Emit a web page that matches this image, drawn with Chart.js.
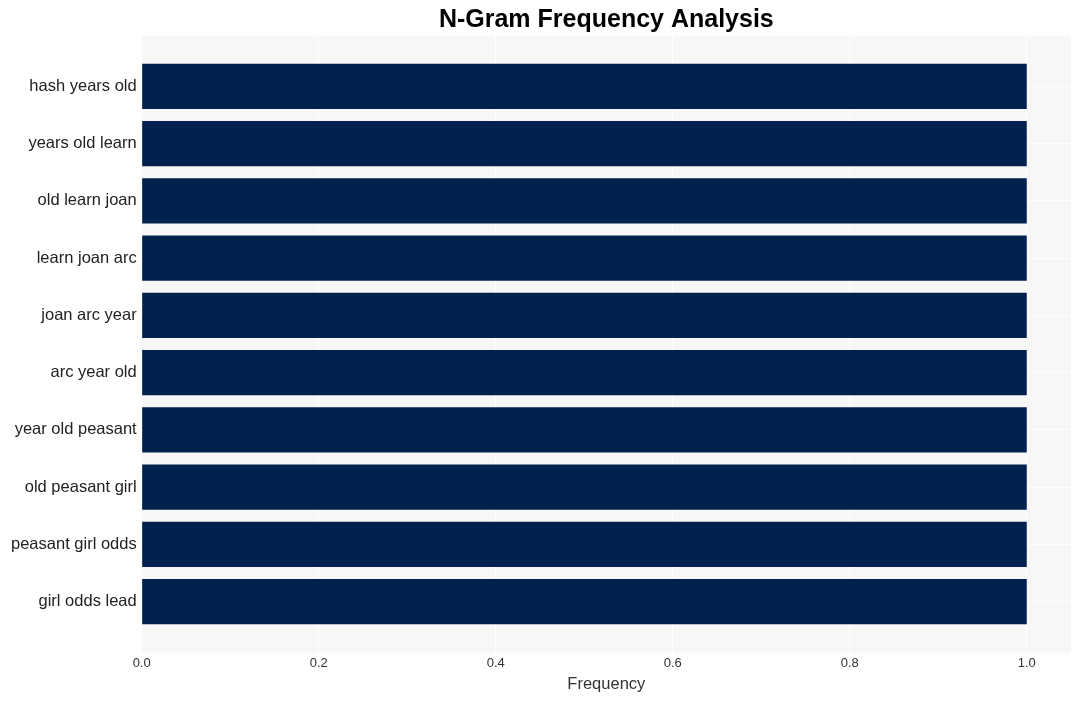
<!DOCTYPE html>
<html>
<head>
<meta charset="utf-8">
<script src="https://cdn.jsdelivr.net/npm/chart.js@4/dist/chart.umd.min.js"></script>
<style>
  html, body { margin: 0; padding: 0; background: #fff; }
  #wrap { width: 1081px; height: 701px; }
</style>
</head>
<body>
<div id="wrap"><canvas id="grafico"></canvas></div>
<script>
const ngramas = ['hash years old', 'years old learn', 'old learn joan', 'learn joan arc', 'joan arc year',
  'arc year old', 'year old peasant', 'old peasant girl', 'peasant girl odds', 'girl odds lead'];
const frequencias = [1, 1, 1, 1, 1, 1, 1, 1, 1, 1];
const ticksX = [0, 0.2, 0.4, 0.6, 0.8, 1.0];

const fundo = {
  id: 'fundo',
  beforeDraw(chart) {
    const { ctx, chartArea: a } = chart;
    ctx.save();
    ctx.fillStyle = '#f7f7f7';
    ctx.fillRect(a.left, a.top, a.right - a.left, a.bottom - a.top);
    ctx.restore();
  }
};

const ctx = document.getElementById('grafico').getContext('2d');
let grafico = new Chart(ctx, {
  type: 'bar',
  data: {
    datasets: [{
      data: ngramas.map((n, i) => ({ x: frequencias[i], y: i })),
      backgroundColor: '#00214e',
      categoryPercentage: 1,
      barPercentage: 0.79
    }]
  },
  options: {
    indexAxis: 'y',
    responsive: true,
    maintainAspectRatio: false,
    animation: false,
    layout: { padding: { left: 6, right: 10, bottom: 7, top: 3 } },
    scales: {
      x: {
        type: 'linear',
        min: 0,
        max: 1.05,
        afterBuildTicks: s => { s.ticks = ticksX.map(v => ({ value: v })); },
        ticks: { color: '#333', font: { family: 'Liberation Sans', size: 13 }, padding: 3,
          callback: v => v.toFixed(1) },
        grid: { color: '#ffffff', lineWidth: 1, drawTicks: false },
        border: { display: false },
        title: { display: true, text: 'Frequency', color: '#333',
          font: { family: 'Liberation Sans', size: 16.5 }, padding: { top: 0, bottom: 0 } }
      },
      y: {
        type: 'linear',
        reverse: true,
        offset: false,
        min: -0.89,
        max: ngramas.length - 1 + 0.89,
        afterBuildTicks: s => { s.ticks = ngramas.map((n, i) => ({ value: i })); },
        ticks: { color: '#222', font: { family: 'Liberation Sans', size: 16.5 }, padding: 5,
          callback: v => ngramas[v] },
        grid: { color: '#ffffff', lineWidth: 1, drawTicks: false, offset: false },
        border: { display: false }
      }
    },
    plugins: {
      legend: { display: false },
      tooltip: { enabled: false },
      title: {
        display: true,
        fullSize: false,
        text: 'N-Gram Frequency Analysis',
        color: '#000',
        font: { family: 'Liberation Sans', size: 25, weight: 'bold', lineHeight: 1.1 },
        padding: { top: 3, bottom: 2 }
      }
    }
  },
  plugins: [fundo]
});
</script>
</body>
</html>
